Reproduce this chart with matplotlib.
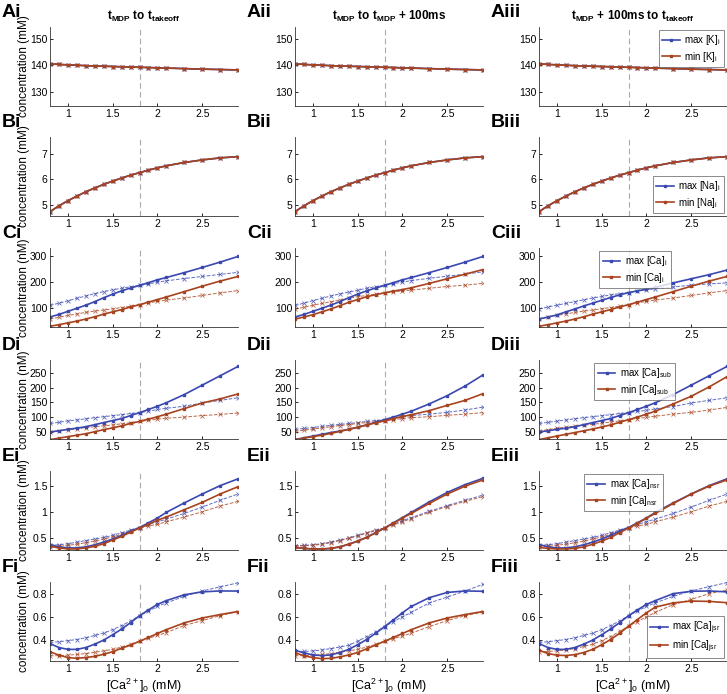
import numpy as np
import matplotlib.pyplot as plt

plt.rcParams['font.family'] = ['Liberation Sans', 'DejaVu Sans']
plt.rcParams['mathtext.fontset'] = 'custom'
plt.rcParams['mathtext.rm'] = 'Liberation Sans'
plt.rcParams['mathtext.bf'] = 'Liberation Sans:bold'

# extracellular calcium (mM)
cao = [0.8, 0.9, 1.0, 1.1, 1.2, 1.3, 1.4, 1.5, 1.6, 1.7, 1.8, 1.9, 2.0, 2.1, 2.3, 2.5, 2.7, 2.9]

# [K]i (mM) - max and min coincide in all columns
k_i = [140.5, 140.3, 140.1, 140.0, 139.8, 139.7, 139.6, 139.5, 139.4, 139.3, 139.2, 139.1, 139.0, 138.9, 138.7, 138.5, 138.35, 138.2]
# [Na]i (mM)
na_i = [4.72, 4.95, 5.15, 5.33, 5.5, 5.65, 5.79, 5.92, 6.04, 6.15, 6.25, 6.35, 6.44, 6.52, 6.65, 6.75, 6.83, 6.88]

# [Ca]i (nM)
ci_max = [64, 74, 86, 98, 110, 124, 139, 153, 166, 177, 187, 198, 209, 218, 237, 257, 278, 300]
ci_max_lin = [109, 118, 127, 137, 146, 155, 163, 170, 176, 182, 187, 193, 200, 205, 214, 222, 230, 238]
ci_min = [28, 34, 41, 48, 56, 65, 75, 84, 93, 103, 112, 122, 132, 142, 163, 184, 204, 222]
ci_min_lin = [56, 63, 70, 76, 82, 87, 91, 96, 101, 106, 112, 119, 125, 130, 138, 148, 158, 167]
cii_max_lin = [109, 118, 128, 137, 146, 154, 161, 168, 176, 182, 188, 194, 200, 206, 215, 223, 231, 240]
cii_min = [56, 64, 73, 84, 95, 108, 121, 132, 143, 151, 158, 165, 171, 178, 195, 213, 231, 249]
cii_min_lin = [94, 102, 110, 117, 123, 130, 137, 143, 148, 153, 158, 162, 166, 169, 176, 183, 188, 195]
ciii_max = [56, 64, 72, 84, 95, 107, 118, 129, 140, 150, 159, 166, 172, 179, 197, 213, 229, 247]
ciii_max_lin = [95, 103, 110, 117, 124, 131, 138, 144, 150, 155, 159, 165, 170, 174, 181, 188, 193, 197]

# [Ca]sub (nM)
di_max = [49, 53, 58, 62, 67, 74, 81, 88, 95, 105, 115, 126, 137, 149, 177, 209, 241, 273]
di_max_lin = [78, 82, 87, 90, 94, 98, 101, 105, 108, 112, 115, 120, 126, 130, 137, 148, 157, 166]
di_min = [23, 28, 33, 38, 43, 50, 57, 63, 70, 78, 85, 93, 101, 110, 129, 148, 162, 179]
di_min_lin = [50, 53, 57, 60, 64, 67, 70, 73, 77, 81, 85, 89, 93, 96, 100, 105, 109, 114]
dii_max = [23, 29, 35, 41, 47, 52, 58, 65, 73, 82, 91, 100, 110, 120, 145, 173, 206, 244]
dii_max_lin = [58, 61, 64, 68, 72, 75, 78, 81, 85, 88, 91, 96, 101, 105, 110, 116, 124, 134]
dii_min = [23, 28, 33, 38, 44, 51, 58, 65, 73, 80, 87, 95, 102, 108, 122, 140, 157, 180]
dii_min_lin = [52, 55, 59, 63, 67, 71, 74, 78, 81, 84, 87, 91, 95, 98, 101, 106, 110, 115]
diii_max_lin = [78, 82, 86, 90, 94, 98, 101, 105, 108, 112, 115, 119, 123, 128, 136, 148, 157, 166]
diii_min = [23, 29, 35, 41, 47, 53, 59, 66, 73, 82, 91, 100, 110, 120, 145, 171, 203, 238]
diii_min_lin = [52, 57, 62, 65, 69, 72, 75, 79, 83, 87, 91, 95, 99, 103, 110, 116, 124, 133]

# [Ca]nsr (mM)
ei_max = [0.385, 0.34, 0.32, 0.32, 0.34, 0.38, 0.43, 0.49, 0.56, 0.64, 0.71, 0.80, 0.89, 1.0, 1.18, 1.35, 1.51, 1.64]
ei_max_lin = [0.37, 0.38, 0.40, 0.43, 0.46, 0.49, 0.52, 0.56, 0.61, 0.66, 0.71, 0.77, 0.82, 0.87, 0.98, 1.10, 1.23, 1.35]
ei_min = [0.35, 0.32, 0.30, 0.30, 0.32, 0.35, 0.40, 0.47, 0.54, 0.62, 0.70, 0.77, 0.85, 0.91, 1.05, 1.19, 1.35, 1.49]
ei_min_lin = [0.34, 0.35, 0.37, 0.39, 0.42, 0.45, 0.49, 0.53, 0.58, 0.64, 0.70, 0.74, 0.77, 0.82, 0.91, 1.01, 1.12, 1.21]
eii_max = [0.33, 0.31, 0.30, 0.30, 0.31, 0.34, 0.39, 0.45, 0.52, 0.61, 0.70, 0.80, 0.90, 1.0, 1.2, 1.38, 1.53, 1.65]
eii_max_lin = [0.36, 0.37, 0.38, 0.40, 0.43, 0.47, 0.51, 0.56, 0.61, 0.66, 0.70, 0.77, 0.84, 0.90, 1.02, 1.13, 1.23, 1.33]
eii_min = [0.33, 0.31, 0.30, 0.30, 0.31, 0.34, 0.39, 0.45, 0.52, 0.61, 0.70, 0.79, 0.89, 0.98, 1.17, 1.35, 1.50, 1.62]
eii_min_lin = [0.35, 0.36, 0.37, 0.39, 0.42, 0.46, 0.50, 0.55, 0.60, 0.65, 0.70, 0.76, 0.82, 0.88, 1.0, 1.11, 1.21, 1.30]

# [Ca]jsr (mM)
fi_max = [0.37, 0.336, 0.32, 0.32, 0.336, 0.365, 0.40, 0.446, 0.495, 0.55, 0.61, 0.66, 0.707, 0.74, 0.79, 0.815, 0.823, 0.822]
fi_max_lin = [0.38, 0.385, 0.395, 0.405, 0.42, 0.44, 0.46, 0.49, 0.525, 0.565, 0.61, 0.65, 0.69, 0.72, 0.777, 0.823, 0.858, 0.893]
fi_min = [0.30, 0.27, 0.25, 0.243, 0.25, 0.26, 0.278, 0.30, 0.33, 0.357, 0.39, 0.423, 0.457, 0.49, 0.548, 0.59, 0.62, 0.646]
fi_min_lin = [0.264, 0.266, 0.27, 0.276, 0.284, 0.295, 0.307, 0.32, 0.34, 0.363, 0.39, 0.415, 0.44, 0.465, 0.525, 0.568, 0.61, 0.646]
fii_max = [0.313, 0.29, 0.272, 0.267, 0.272, 0.293, 0.32, 0.36, 0.405, 0.458, 0.516, 0.574, 0.635, 0.69, 0.765, 0.81, 0.823, 0.82]
fii_max_lin = [0.30, 0.302, 0.307, 0.315, 0.327, 0.34, 0.356, 0.39, 0.43, 0.47, 0.516, 0.56, 0.60, 0.64, 0.72, 0.77, 0.823, 0.88]
fii_min = [0.293, 0.264, 0.25, 0.24, 0.243, 0.255, 0.272, 0.293, 0.325, 0.357, 0.39, 0.423, 0.457, 0.49, 0.548, 0.59, 0.62, 0.646]
fii_min_lin = [0.264, 0.266, 0.27, 0.276, 0.284, 0.295, 0.307, 0.32, 0.34, 0.363, 0.39, 0.412, 0.435, 0.46, 0.516, 0.568, 0.61, 0.64]
fiii_max = [0.37, 0.336, 0.32, 0.32, 0.336, 0.365, 0.40, 0.446, 0.495, 0.55, 0.61, 0.66, 0.707, 0.74, 0.80, 0.82, 0.823, 0.815]
fiii_max_lin = [0.38, 0.385, 0.395, 0.405, 0.42, 0.44, 0.46, 0.49, 0.525, 0.565, 0.61, 0.65, 0.69, 0.72, 0.777, 0.823, 0.86, 0.895]
fiii_min = [0.313, 0.284, 0.27, 0.267, 0.275, 0.293, 0.32, 0.36, 0.405, 0.458, 0.52, 0.577, 0.635, 0.684, 0.72, 0.736, 0.733, 0.722]
fiii_min_lin = [0.30, 0.302, 0.307, 0.315, 0.327, 0.345, 0.365, 0.395, 0.43, 0.475, 0.52, 0.56, 0.60, 0.64, 0.705, 0.75, 0.80, 0.83]

col_titles = [r"$\mathbf{t_{MDP}}$ to $\mathbf{t_{takeoff}}$",
              r"$\mathbf{t_{MDP}}$ to $\mathbf{t_{MDP}}$ + 100ms",
              r"$\mathbf{t_{MDP}}$ + 100ms to $\mathbf{t_{takeoff}}$"]
row_letters = ["A", "B", "C", "D", "E", "F"]
col_numerals = ["i", "ii", "iii"]
species = [r"[K]$_\mathrm{i}$", r"[Na]$_\mathrm{i}$", r"[Ca]$_\mathrm{i}$",
           r"[Ca]$_\mathrm{sub}$", r"[Ca]$_\mathrm{nsr}$", r"[Ca]$_\mathrm{jsr}$"]
units = ["mM", "mM", "nM", "nM", "mM", "mM"]
ylims = [(124.5, 154.5), (4.55, 7.65), (25, 333), (25, 295), (0.28, 1.79), (0.22, 0.9)]
yticks = [[130, 140, 150], [5, 6, 7], [100, 200, 300], [50, 100, 150, 200, 250],
          [0.5, 1, 1.5], [0.4, 0.6, 0.8]]
yticklabels = [["130", "140", "150"], ["5", "6", "7"], ["100", "200", "300"],
               ["50", "100", "150", "200", "250"], ["0.5", "1", "1.5"], ["0.4", "0.6", "0.8"]]
# legend placement in the right-hand column (loc, anchor x)
legend_locs = [("upper right", 1.0), ("lower right", 1.0), ("upper center", 0.51),
               ("upper center", 0.51), ("upper center", 0.45), ("lower right", 1.0)]

# (max, max approx, min, min approx) for each row / column
panels = [
    [(k_i, k_i, k_i, k_i)] * 3,
    [(na_i, na_i, na_i, na_i)] * 3,
    [(ci_max, ci_max_lin, ci_min, ci_min_lin),
     (ci_max, cii_max_lin, cii_min, cii_min_lin),
     (ciii_max, ciii_max_lin, ci_min, ci_min_lin)],
    [(di_max, di_max_lin, di_min, di_min_lin),
     (dii_max, dii_max_lin, dii_min, dii_min_lin),
     (di_max, diii_max_lin, diii_min, diii_min_lin)],
    [(ei_max, ei_max_lin, ei_min, ei_min_lin),
     (eii_max, eii_max_lin, eii_min, eii_min_lin),
     (ei_max, ei_max_lin, eii_min, ei_min_lin)],
    [(fi_max, fi_max_lin, fi_min, fi_min_lin),
     (fii_max, fii_max_lin, fii_min, fii_min_lin),
     (fiii_max, fiii_max_lin, fiii_min, fiii_min_lin)],
]

blue = "#3a48b0"
red = "#a8431f"

W, H = 727, 694
fig = plt.figure(figsize=(W / 100, H / 100), dpi=100)
lefts = [50, 295, 539]
tops = [27, 137, 248, 360, 471, 582]
aw, ah = 188, 79

for r in range(6):
    for c in range(3):
        ax = fig.add_axes([lefts[c] / W, 1 - (tops[r] + ah) / H, aw / W, ah / H])
        mx, mx_lin, mn, mn_lin = panels[r][c]
        ax.axvline(1.8, color="#aaaaaa", lw=0.8, ls=(0, (5, 3)))
        ax.plot(cao, mx_lin, color=blue, ls="--", lw=0.7, marker="x", ms=2.5, mew=0.6, alpha=0.8)
        ax.plot(cao, mn_lin, color=red, ls="--", lw=0.7, marker="x", ms=2.5, mew=0.6, alpha=0.8)
        ax.plot(cao, mx, color=blue, lw=1.2, marker="s", ms=2, label="max " + species[r])
        ax.plot(cao, mn, color=red, lw=1.2, marker="s", ms=2, label="min " + species[r])
        ax.set_xlim(0.8, 2.9)
        ax.set_ylim(*ylims[r])
        ax.set_xticks([1, 1.5, 2, 2.5])
        ax.set_xticklabels(["1", "1.5", "2", "2.5"])
        ax.set_yticks(yticks[r])
        ax.set_yticklabels(yticklabels[r])
        ax.tick_params(direction="in", length=2.5, width=0.6, labelsize=7.5, pad=2)
        for s in ["top", "right"]:
            ax.spines[s].set_visible(False)
        for s in ["left", "bottom"]:
            ax.spines[s].set_color("#333333")
            ax.spines[s].set_linewidth(0.6)
        if c == 0:
            ax.set_ylabel(f"concentration ({units[r]})", fontsize=8.5)
            ax.yaxis.set_label_coords(-0.107, 0.5)
        if c == 2:
            loc, bx = legend_locs[r]
            by = 0.0 if loc.startswith("lower") else 1.0
            leg = ax.legend(loc=loc, bbox_to_anchor=(bx, by), fontsize=7, frameon=True,
                            fancybox=False, handlelength=1.8, handletextpad=0.5,
                            borderpad=0.35, labelspacing=0.25, borderaxespad=0.3)
            leg.get_frame().set_edgecolor("#555555")
            leg.get_frame().set_linewidth(0.6)
        if r == 5:
            ax.set_xlabel(r"[Ca$^{2+}$]$_\mathrm{o}$ (mM)", fontsize=9, labelpad=2)
        if r == 0:
            ax.set_title(col_titles[c], fontsize=8.5, fontweight="bold", pad=5)
        fig.text((lefts[c] - 48) / W, 1 - (tops[r] - 10) / H, row_letters[r] + col_numerals[c],
                 fontsize=14, fontweight="bold", ha="left", va="baseline")

fig.savefig("out.png", dpi=100)
